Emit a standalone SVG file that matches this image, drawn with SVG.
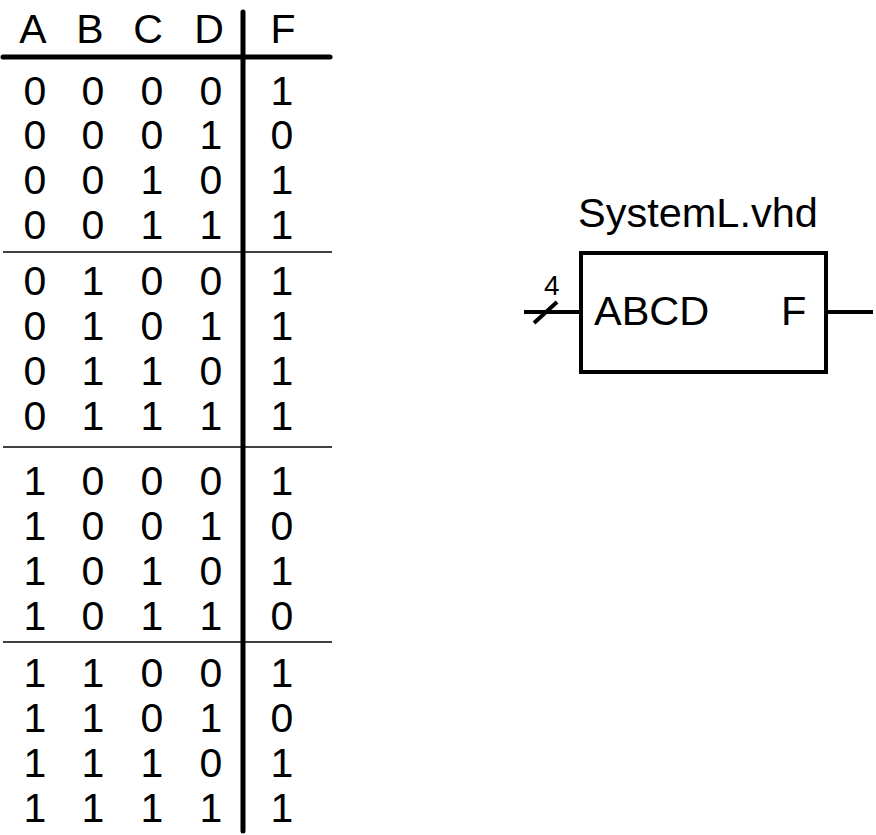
<svg xmlns="http://www.w3.org/2000/svg" width="876" height="835" viewBox="0 0 876 835">
<style>
text{font-family:"Liberation Sans",Arial,sans-serif;font-size:41px;fill:#000}
.c{text-anchor:middle}
.b{font-size:41.5px}
.thick{stroke:#000;stroke-width:5;stroke-linecap:round;fill:none}
.thin{stroke:#000;stroke-width:1.5;fill:none}
.w{stroke:#000;stroke-width:4;fill:none}
</style>
<rect width="876" height="835" fill="#fff"/>
<g id="truth-table">
<g id="header" class="c">
<text x="33" y="43">A</text><text x="90" y="43">B</text><text x="148" y="43">C</text><text x="209" y="43">D</text><text x="283" y="43">F</text>
</g>
<line class="thick" x1="3" y1="57" x2="330" y2="57"/>
<line class="thick" x1="243" y1="12" x2="243" y2="831"/>
<line class="thin" x1="3" y1="252" x2="332" y2="252"/>
<line class="thin" x1="3" y1="447" x2="332" y2="447"/>
<line class="thin" x1="3" y1="642" x2="332" y2="642"/>
<g id="rows" class="c">
<text y="105"><tspan x="35">0</tspan><tspan x="93">0</tspan><tspan x="152">0</tspan><tspan x="211">0</tspan><tspan x="282">1</tspan></text>
<text y="149"><tspan x="35">0</tspan><tspan x="93">0</tspan><tspan x="152">0</tspan><tspan x="211">1</tspan><tspan x="282">0</tspan></text>
<text y="194"><tspan x="35">0</tspan><tspan x="93">0</tspan><tspan x="152">1</tspan><tspan x="211">0</tspan><tspan x="282">1</tspan></text>
<text y="239"><tspan x="35">0</tspan><tspan x="93">0</tspan><tspan x="152">1</tspan><tspan x="211">1</tspan><tspan x="282">1</tspan></text>
<text y="295"><tspan x="35">0</tspan><tspan x="93">1</tspan><tspan x="152">0</tspan><tspan x="211">0</tspan><tspan x="282">1</tspan></text>
<text y="340"><tspan x="35">0</tspan><tspan x="93">1</tspan><tspan x="152">0</tspan><tspan x="211">1</tspan><tspan x="282">1</tspan></text>
<text y="385"><tspan x="35">0</tspan><tspan x="93">1</tspan><tspan x="152">1</tspan><tspan x="211">0</tspan><tspan x="282">1</tspan></text>
<text y="430"><tspan x="35">0</tspan><tspan x="93">1</tspan><tspan x="152">1</tspan><tspan x="211">1</tspan><tspan x="282">1</tspan></text>
<text y="495"><tspan x="35">1</tspan><tspan x="93">0</tspan><tspan x="152">0</tspan><tspan x="211">0</tspan><tspan x="282">1</tspan></text>
<text y="540"><tspan x="35">1</tspan><tspan x="93">0</tspan><tspan x="152">0</tspan><tspan x="211">1</tspan><tspan x="282">0</tspan></text>
<text y="585"><tspan x="35">1</tspan><tspan x="93">0</tspan><tspan x="152">1</tspan><tspan x="211">0</tspan><tspan x="282">1</tspan></text>
<text y="630"><tspan x="35">1</tspan><tspan x="93">0</tspan><tspan x="152">1</tspan><tspan x="211">1</tspan><tspan x="282">0</tspan></text>
<text y="687"><tspan x="35">1</tspan><tspan x="93">1</tspan><tspan x="152">0</tspan><tspan x="211">0</tspan><tspan x="282">1</tspan></text>
<text y="732"><tspan x="35">1</tspan><tspan x="93">1</tspan><tspan x="152">0</tspan><tspan x="211">1</tspan><tspan x="282">0</tspan></text>
<text y="777"><tspan x="35">1</tspan><tspan x="93">1</tspan><tspan x="152">1</tspan><tspan x="211">0</tspan><tspan x="282">1</tspan></text>
<text y="822"><tspan x="35">1</tspan><tspan x="93">1</tspan><tspan x="152">1</tspan><tspan x="211">1</tspan><tspan x="282">1</tspan></text>
</g>
</g>
<g id="block-SystemL">
<text class="b" x="578" y="227">SystemL.vhd</text>
<rect class="w" x="581" y="253" width="245" height="119"/>
<text class="b" x="594" y="325">ABCD</text>
<text class="b" x="781" y="325">F</text>
</g>
<g id="connectors">
<line class="w" x1="524" y1="312" x2="581" y2="312"/>
<line class="w" x1="534" y1="323" x2="557" y2="302"/>
<text x="544" y="295" style="font-size:28px">4</text>
<line class="w" x1="826" y1="312" x2="873" y2="312"/>
</g>
</svg>
